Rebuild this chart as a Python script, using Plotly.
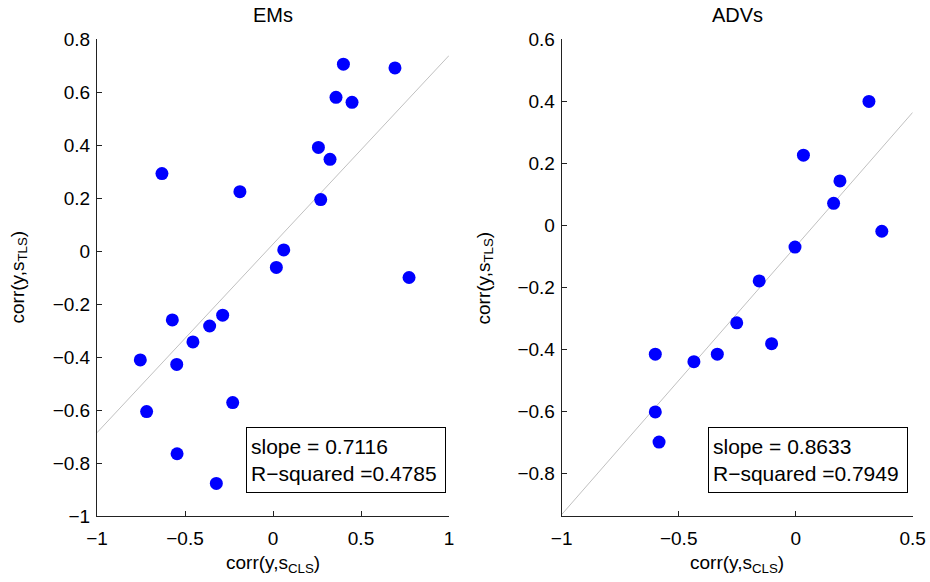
import plotly.graph_objects as go

# ---- data ----
em_x = [0.400, 0.693, 0.358, 0.449, 0.258, 0.324, -0.631, -0.188, 0.271, 0.061, 0.019,
        0.773, -0.286, -0.572, -0.360, -0.455, -0.754, -0.547, -0.229, -0.718, -0.545, -0.322]
em_y = [0.705, 0.691, 0.580, 0.561, 0.391, 0.346, 0.292, 0.224, 0.194, 0.004, -0.062,
        -0.100, -0.242, -0.260, -0.283, -0.343, -0.411, -0.428, -0.572, -0.606, -0.765, -0.877]
em_slope, em_intercept, em_r2 = 0.7116, 0.026, 0.4785

adv_x = [0.313, 0.033, 0.189, 0.162, 0.368, -0.003, -0.156, -0.252, -0.103, -0.600,
         -0.335, -0.435, -0.600, -0.584]
adv_y = [0.399, 0.226, 0.143, 0.071, -0.019, -0.070, -0.179, -0.314, -0.381, -0.415,
         -0.415, -0.439, -0.601, -0.698]
adv_slope, adv_intercept, adv_r2 = 0.8633, -0.068, 0.7949

em_xlim = [-1, 1]
em_ylim = [-1, 0.8]
adv_xlim = [-1, 0.5]
adv_ylim = [-0.936, 0.6]

em_xticks = [-1, -0.5, 0, 0.5, 1]
em_xtext = ["\u22121", "\u22120.5", "0", "0.5", "1"]
em_yticks = [-1, -0.8, -0.6, -0.4, -0.2, 0, 0.2, 0.4, 0.6, 0.8]
em_ytext = ["\u22121", "\u22120.8", "\u22120.6", "\u22120.4", "\u22120.2", "0", "0.2", "0.4", "0.6", "0.8"]
adv_xticks = [-1, -0.5, 0, 0.5]
adv_xtext = ["\u22121", "\u22120.5", "0", "0.5"]
adv_yticks = [-0.8, -0.6, -0.4, -0.2, 0, 0.2, 0.4, 0.6]
adv_ytext = ["\u22120.8", "\u22120.6", "\u22120.4", "\u22120.2", "0", "0.2", "0.4", "0.6"]

titles = ["EMs", "ADVs"]
xlabel = "corr(y,s<sub>CLS</sub>)"
ylabel = "corr(y,s<sub>TLS</sub>)"

FONT = "Liberation Sans, Arial, Helvetica, sans-serif"
W, H = 930, 582

fig = go.Figure()

# regression lines
fig.add_trace(go.Scatter(x=em_xlim, y=[em_slope * v + em_intercept for v in em_xlim],
                         mode="lines", line=dict(color="#c0c0c0", width=1),
                         xaxis="x", yaxis="y", showlegend=False, hoverinfo="skip"))
fig.add_trace(go.Scatter(x=adv_xlim, y=[adv_slope * v + adv_intercept for v in adv_xlim],
                         mode="lines", line=dict(color="#c0c0c0", width=1),
                         xaxis="x2", yaxis="y2", showlegend=False, hoverinfo="skip"))
# points
fig.add_trace(go.Scatter(x=em_x, y=em_y, mode="markers",
                         marker=dict(color="#0000ff", size=13, line=dict(width=0)),
                         xaxis="x", yaxis="y", showlegend=False))
fig.add_trace(go.Scatter(x=adv_x, y=adv_y, mode="markers",
                         marker=dict(color="#0000ff", size=13, line=dict(width=0)),
                         xaxis="x2", yaxis="y2", showlegend=False))

axis_common = dict(showline=True, linecolor="#222222", linewidth=1, mirror=False,
                   ticks="inside", ticklen=5, tickcolor="#222222", tickwidth=1,
                   showgrid=False, zeroline=False, automargin=False,
                   tickfont=dict(family=FONT, size=19, color="#000000"))

left_dom = [97 / W, 449 / W]
right_dom = [561.7 / W, 912.7 / W]
y_dom = [1 - 516 / H, 1 - 39 / H]

fig.update_layout(
    width=W, height=H,
    margin=dict(l=0, r=0, t=0, b=0, autoexpand=False),
    paper_bgcolor="white", plot_bgcolor="white",
    font=dict(family=FONT, color="#000000"),
    xaxis=dict(domain=left_dom, range=em_xlim, tickvals=em_xticks, ticktext=em_xtext,
               anchor="y", ticklabelstandoff=5, **axis_common),
    yaxis=dict(domain=y_dom, range=em_ylim, tickvals=em_yticks, ticktext=em_ytext,
               anchor="x", ticklabelstandoff=2, **axis_common),
    xaxis2=dict(domain=right_dom, range=adv_xlim, tickvals=adv_xticks, ticktext=adv_xtext,
                anchor="y2", ticklabelstandoff=5, **axis_common),
    yaxis2=dict(domain=y_dom, range=adv_ylim, tickvals=adv_yticks, ticktext=adv_ytext,
                anchor="x2", ticklabelstandoff=2, **axis_common),
)

ann = []
# titles and axis titles
for t, dom in zip(titles, [left_dom, right_dom]):
    ann.append(dict(text=t, x=(dom[0] + dom[1]) / 2, y=1 - 15 / H, xref="paper", yref="paper",
                    xanchor="center", yanchor="middle", showarrow=False,
                    font=dict(family=FONT, size=20, color="#000")))
    ann.append(dict(text=xlabel, x=(dom[0] + dom[1]) / 2, y=1 - 564 / H, xref="paper",
                    yref="paper", xanchor="center", yanchor="middle", showarrow=False,
                    font=dict(family=FONT, size=19, color="#000")))
for xpx in [18, 484]:
    ann.append(dict(text=ylabel, x=xpx / W, y=(y_dom[0] + y_dom[1]) / 2, xref="paper",
                    yref="paper", xanchor="center", yanchor="middle", textangle=-90,
                    showarrow=False, font=dict(family=FONT, size=19, color="#000")))
# stat boxes
for slope, r2, left_px in [(em_slope, em_r2, 245.7), (adv_slope, adv_r2, 708.3)]:
    ann.append(dict(text=f"slope = {slope:.4f}<br>R\u2212squared ={r2:.4f}",
                    x=left_px / W, y=1 - 426.7 / H, xref="paper", yref="paper",
                    xanchor="left", yanchor="top", align="left", showarrow=False,
                    width=190, height=56, borderpad=4,
                    bordercolor="#000", borderwidth=1, bgcolor="white",
                    font=dict(family=FONT, size=21, color="#000")))
fig.update_layout(annotations=ann)

fig.write_html("out.html")
